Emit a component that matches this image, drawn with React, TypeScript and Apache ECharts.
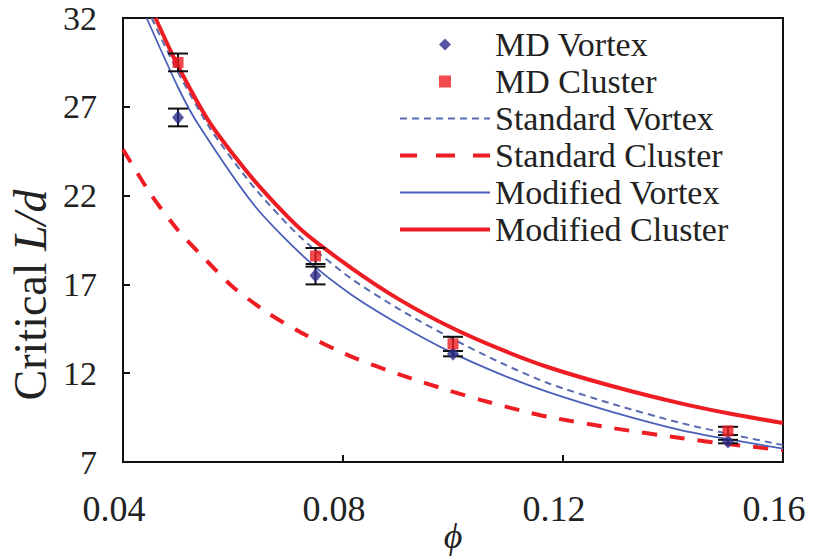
import React, { useEffect, useRef } from "react";
import * as echarts from "echarts";

const mdPhi = [0.05, 0.075, 0.1, 0.15];
const mdVortex = [26.4, 17.5, 13.1, 8.15];
const mdVortexErr = [0.5, 0.5, 0.15, 0.1];
const mdCluster = [29.5, 18.6, 13.65, 8.75];
const mdClusterErr = [0.5, 0.45, 0.4, 0.23];

const standardVortex = [
  [0.0452, 32], [0.05, 28.95], [0.0559, 25.75], [0.064, 22.4], [0.0723, 19.65],
  [0.0814, 17.35], [0.0905, 15.55], [0.0995, 14.0], [0.1086, 12.6], [0.1172, 11.45],
  [0.1292, 10.25], [0.1414, 9.2], [0.1507, 8.55], [0.16, 7.95],
];
const standardCluster = [
  [0.04, 24.6], [0.045, 22.1], [0.05, 20.05], [0.055, 18.4], [0.06, 16.85],
  [0.0663, 15.4], [0.0723, 14.3], [0.0814, 12.95], [0.0905, 11.9], [0.0995, 11.0],
  [0.105, 10.5], [0.1123, 9.9], [0.1172, 9.55], [0.1292, 8.9], [0.1414, 8.35],
  [0.1507, 7.98], [0.16, 7.68],
];
const modifiedVortex = [
  [0.0443, 32], [0.05, 28.1], [0.0537, 26.0], [0.064, 21.4], [0.0736, 18.35],
  [0.0814, 16.45], [0.0905, 14.7], [0.0995, 13.2], [0.1086, 11.95], [0.1172, 10.95],
  [0.1292, 9.8], [0.1414, 8.8], [0.1507, 8.25], [0.16, 7.75],
];
const modifiedCluster = [
  [0.0459, 32], [0.05, 29.3], [0.0559, 26.05], [0.064, 22.8], [0.0723, 20.1],
  [0.0814, 17.95], [0.0905, 16.1], [0.0995, 14.6], [0.1086, 13.35], [0.1172, 12.35],
  [0.1292, 11.25], [0.1414, 10.3], [0.1507, 9.7], [0.16, 9.2],
];

const xTicks = ["0.04", "0.08", "0.12", "0.16"];

const FONT = "'Liberation Serif', 'Times New Roman', serif";
const RED = "#ee1d23";
const BLUE = "#4b5fb8";
const BLUE_DASH = "#5a6ab0";
const NAVY = "#2e2d8c";

export default function App() {
  const ref = useRef<HTMLDivElement>(null);

  useEffect(() => {
    if (!ref.current) return;
    const chart = echarts.init(ref.current, undefined, { renderer: "svg" });

    const errData = [
      ...mdPhi.map((p, i) => [p, mdVortex[i] - mdVortexErr[i], mdVortex[i] + mdVortexErr[i]]),
      ...mdPhi.map((p, i) => [p, mdCluster[i] - mdClusterErr[i], mdCluster[i] + mdClusterErr[i]]),
    ];

    const lineCommon = { symbol: "none", smooth: 0.25 };

    const option: any = {
      animation: false,
      backgroundColor: "#ffffff",
      grid: {
        left: 123,
        top: 18,
        right: 35,
        bottom: 97,
        show: true,
        borderColor: "#111",
        borderWidth: 2,
        backgroundColor: "transparent",
        containLabel: false,
        outerBoundsMode: "none",
      },
      xAxis: {
        type: "value",
        min: 0.04,
        max: 0.16,
        interval: 0.04,
        name: "ϕ",
        nameLocation: "middle",
        nameGap: 56,
        nameMoveOverlap: false,
        nameTextStyle: { fontFamily: FONT, fontSize: 36, fontStyle: "italic", color: "#222" },
        axisLine: { show: true, onZero: false, lineStyle: { color: "#111", width: 2 } },
        axisTick: { show: true, inside: true, length: 7, lineStyle: { color: "#111", width: 2 } },
        axisLabel: {
          fontFamily: FONT,
          fontSize: 36,
          color: "#222",
          margin: 29,
          padding: [0, 18, 0, 0],
          formatter: (v: number) => {
            const idx = Math.round((v - 0.04) / 0.04);
            return xTicks[idx] ?? v.toFixed(2);
          },
        },
        splitLine: { show: false },
      },
      yAxis: {
        type: "value",
        min: 7,
        max: 32,
        interval: 5,
        axisLine: { show: true, onZero: false, lineStyle: { color: "#111", width: 2 } },
        axisTick: { show: true, inside: true, length: 7, lineStyle: { color: "#111", width: 2 } },
        axisLabel: { fontFamily: FONT, fontSize: 34, color: "#222", margin: 26 },
        splitLine: { show: false },
      },
      legend: {
        orient: "vertical",
        left: 395,
        top: 21,
        itemWidth: 90,
        itemHeight: 12,
        itemGap: 0,
        symbolKeepAspect: true,
        textStyle: { fontFamily: FONT, fontSize: 34, color: "#222", lineHeight: 37 },
        data: [
          {
            name: "MD Vortex",
            icon: "path://M6,0L12,6L6,12L0,6Z",
            itemStyle: { color: NAVY, borderWidth: 0 },
          },
          {
            name: "MD Cluster",
            icon: "path://M0,0h11v11h-11z",
            itemStyle: { color: RED, borderWidth: 0 },
          },
          {
            name: "Standard Vortex",
            icon: "path://M0,0h7v2h-7z M12,0h7v2h-7z M24,0h7v2h-7z M36,0h7v2h-7z M48,0h7v2h-7z M60,0h7v2h-7z M72,0h7v2h-7z M84,0h6v2h-6z",
            itemStyle: { color: BLUE_DASH, borderWidth: 0 },
          },
          {
            name: "Standard Cluster",
            icon: "path://M0,0h17v4h-17z M36,0h19v4h-19z M73,0h17v4h-17z",
            itemStyle: { color: RED, borderWidth: 0 },
          },
          {
            name: "Modified Vortex",
            icon: "path://M0,0h90v2h-90z",
            itemStyle: { color: BLUE, borderWidth: 0 },
          },
          {
            name: "Modified Cluster",
            icon: "path://M0,0h90v4h-90z",
            itemStyle: { color: RED, borderWidth: 0 },
          },
        ],
      },
      graphic: [
        {
          type: "text",
          x: 30,
          y: 295,
          rotation: Math.PI / 2,
          style: {
            text: "{a|Critical }{b|L/d}",
            align: "center",
            verticalAlign: "middle",
            fill: "#222",
            rich: {
              a: { fontFamily: FONT, fontSize: 46, fill: "#222" },
              b: { fontFamily: FONT, fontSize: 46, fontStyle: "italic", fill: "#222" },
            },
          },
        },
      ],
      series: [
        {
          name: "Standard Cluster",
          type: "line",
          data: standardCluster,
          ...lineCommon,
          z: 3,
          lineStyle: { color: RED, width: 4, type: [15, 13] },
          itemStyle: { color: RED },
        },
        {
          name: "Modified Vortex",
          type: "line",
          data: modifiedVortex,
          ...lineCommon,
          z: 4,
          lineStyle: { color: BLUE, width: 1.8 },
          itemStyle: { color: BLUE },
        },
        {
          name: "Standard Vortex",
          type: "line",
          data: standardVortex,
          ...lineCommon,
          z: 5,
          lineStyle: { color: BLUE_DASH, width: 2, type: [7, 5] },
          itemStyle: { color: BLUE_DASH },
        },
        {
          name: "Modified Cluster",
          type: "line",
          data: modifiedCluster,
          ...lineCommon,
          z: 6,
          lineStyle: { color: RED, width: 4 },
          itemStyle: { color: RED },
        },
        {
          name: "errors",
          type: "custom",
          z: 7,
          data: errData,
          renderItem: (params: any, api: any) => {
            const x = api.value(0);
            const lo = api.coord([x, api.value(1)]);
            const hi = api.coord([x, api.value(2)]);
            const hw = 10;
            const style = { stroke: "#111", lineWidth: 2 };
            return {
              type: "group",
              children: [
                { type: "line", shape: { x1: lo[0], y1: lo[1], x2: hi[0], y2: hi[1] }, style },
                { type: "line", shape: { x1: lo[0] - hw, y1: lo[1], x2: lo[0] + hw, y2: lo[1] }, style },
                { type: "line", shape: { x1: hi[0] - hw, y1: hi[1], x2: hi[0] + hw, y2: hi[1] }, style },
              ],
            };
          },
        },
        {
          name: "MD Vortex",
          type: "scatter",
          z: 8,
          data: mdPhi.map((p, i) => [p, mdVortex[i]]),
          symbol: "diamond",
          symbolSize: [12, 14],
          itemStyle: { color: NAVY },
        },
        {
          name: "MD Cluster",
          type: "scatter",
          z: 8,
          data: mdPhi.map((p, i) => [p, mdCluster[i]]),
          symbol: "rect",
          symbolSize: 11,
          itemStyle: { color: RED },
        },
      ],
    };

    chart.setOption(option);
    return () => chart.dispose();
  }, []);

  return <div ref={ref} style={{ width: 818, height: 559, position: "absolute", left: 0, top: 0 }} />;
}
